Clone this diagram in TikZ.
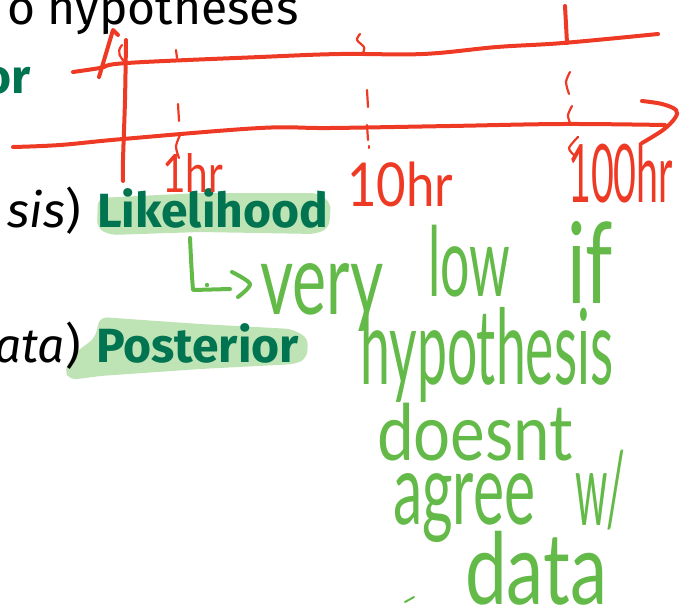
\documentclass[tikz,border=0pt]{standalone}
\usepackage{fontspec}
\usepackage{graphicx}
\setmainfont{Fira Sans}
\newfontfamily\hand{Lato}
\definecolor{inkred}{RGB}{238,58,36}
\definecolor{inkgreen}{RGB}{99,186,72}
\definecolor{slidegreen}{RGB}{0,115,80}
\definecolor{hilite}{RGB}{190,227,180}
\newcommand{\fitbox}[3]{\resizebox*{#1pt}{#2pt}{#3}}
\tikzset{
  slidetext/.style={inner sep=0pt, font=\fontsize{48}{52}\selectfont},
  alerttext/.style={slidetext, text=slidegreen, font=\fontsize{48}{52}\selectfont\bfseries},
  redink/.style={draw=inkred, line width=4pt, line cap=round, line join=round},
  redtick/.style={draw=inkred, line width=2.2pt, line cap=round, line join=round},
  greenink/.style={draw=inkgreen, line width=4pt, line cap=round, line join=round},
  hwred/.style={inner sep=0pt, text=inkred, font=\hand, anchor=north west},
  hwgreen/.style={inner sep=0pt, text=inkgreen, font=\hand, anchor=north west},
  hl/.style={fill=hilite, draw=none, rounded corners=7pt}
}
\begin{document}
\begin{tikzpicture}[x=1pt,y=-1pt]
\useasboundingbox (0,0) rectangle (687,613);
\clip (0,0) rectangle (687,613);

% highlights
\path[hl] (98,198) -- (200,193) -- (318,193) -- (331,203) -- (329,228) -- (316,234) -- (200,232) -- (110,235) -- (97,228) -- cycle;
\path[hl] (100,317) -- (200,324) -- (292,329) -- (308,338) -- (307,358) -- (296,364) -- (200,369) -- (100,376) -- (70,380) -- (64,370) -- (76,352) -- (95,338) -- cycle;

% slide text
\node[slidetext, anchor=base west] (topline) at (7,24) {o hypotheses};
\node[alerttext, anchor=base east] (prior) at (31,93) {or};
\node[slidetext, anchor=base east] (hyp) at (81,227) {{\itshape sis})};
\node[alerttext, anchor=base west] (lik) at (97,227) {Likelihood};
\node[slidetext, anchor=base east] (dat) at (81,362) {{\itshape ata})};
\node[alerttext, anchor=base west] (post) at (96,362) {Posterior};

% red axes
\draw[redink] plot[smooth, tension=0.6] coordinates {(73,72) (100,68) (127,63) (260,57) (340,54) (423,54) (497,47) (563,43) (658,34)};
\draw[redink] plot[smooth, tension=0.6] coordinates {(13,147) (60,145) (123,139) (260,128) (330,128) (450,126) (563,124) (665,125)};
\draw[redink] plot[smooth, tension=0.6] coordinates {(642,101) (662,104) (676,110) (675,118) (663,130) (642,143)};
\draw[redink] plot[smooth, tension=0.5] coordinates {(126,40) (125,100) (123,160) (123,181)};
\draw[redink] (99,77) -- (113,30) -- (118,35);
\draw[redtick] (122,45) .. controls (116,52) and (120,58) .. (126,63);

% ticks
\draw[redtick] (176,50) -- (177,58);
\draw[redtick] (178,104) -- (179,121);
\draw[redtick] plot[smooth] coordinates {(181,133) (176,146) (179,158)};
\draw[redtick] plot[smooth] coordinates {(360,34) (357,40) (364,47) (363,53)};
\draw[redtick] (367,90) -- (368,107);
\draw[redtick] (367,125) -- (368,140);
\draw[redtick] (369,146) -- (369,148);
\draw[redink] (565,6) -- (567,43);
\draw[redtick] plot[smooth] coordinates {(570,72) (566,82) (569,94)};
\draw[redtick] plot[smooth] coordinates {(572,106) (568,115) (570,123)};
\draw[redtick] plot[smooth] coordinates {(578,137) (569,148) (574,155)};

% red labels
\node[hwred] (l1) at (162,153) {\fitbox{61}{39}{1hr}};
\node[hwred] (l10) at (347,162) {\fitbox{106}{45}{10hr}};
\node[hwred] (l100) at (568,143) {\fitbox{105}{60}{100hr}};

% green notes
\node[hwgreen] (very) at (260,263) {\fitbox{123}{68}{very}};
\node[hwgreen] (low) at (428,225) {\fitbox{82}{72}{low}};
\node[hwgreen] (if) at (567,221) {\fitbox{46}{82}{if}};
\node[hwgreen] (hypo) at (360,307) {\fitbox{253}{95}{hypothesis}};
\node[hwgreen] (doesnt) at (377,403) {\fitbox{196}{58}{doesnt}};
\node[hwgreen] (agree) at (393,473) {\fitbox{142}{69}{agree}};
\node[hwgreen] (wl) at (575,450) {\fitbox{50}{80}{w/}};
\node[hwgreen] (data) at (465,531) {\fitbox{142}{74}{data}};

\coordinate (arrowtop) at (190,238);
\draw[greenink] (arrowtop) .. controls (191,260) and (192,278) .. (193,290) -- (230,289);
\draw[greenink] plot[smooth] coordinates {(232,272) (250,284) (238,297)};
\fill[inkgreen] (207,285) circle (2.2);
\draw[greenink, line width=2pt] (405,602) -- (414,597);
\end{tikzpicture}
\end{document}
